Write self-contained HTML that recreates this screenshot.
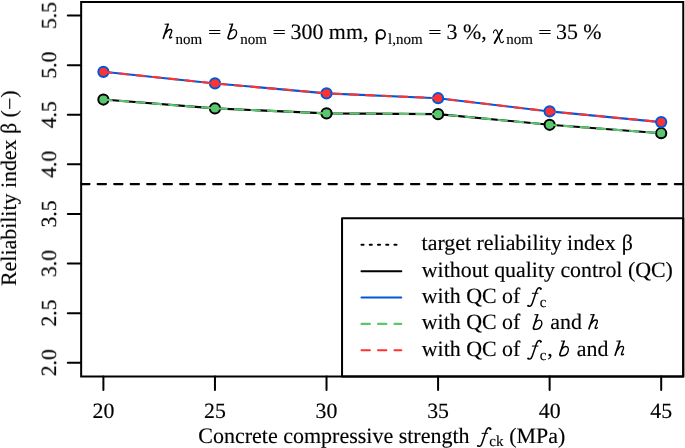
<!DOCTYPE html>
<html><head><meta charset="utf-8"><style>
html,body{margin:0;padding:0;background:#fff;width:685px;height:448px;overflow:hidden}
svg{display:block;font-family:"Liberation Serif",serif;text-rendering:geometricPrecision}
text{stroke:#000;stroke-width:0.15px;will-change:transform}
</style></head><body>
<svg width="685" height="448" viewBox="0 0 685 448">
<rect width="685" height="448" fill="#fff"/>
<line x1="81.15" y1="184.1" x2="683.25" y2="184.1" stroke="#000" stroke-width="2.06" stroke-dasharray="8.4 8.089999999999998" stroke-linecap="round"/>
<polyline points="103.4,99.55 214.96,108.4 326.52,113.4 438.08,114.15 549.64,124.8 661.2,133.2" fill="none" stroke="#000" stroke-width="2.06" stroke-linecap="round" stroke-linejoin="round"/>
<circle cx="103.4" cy="99.55" r="5.1" fill="#5ac76e" stroke="#000" stroke-width="2.0"/>
<circle cx="214.96" cy="108.4" r="5.1" fill="#5ac76e" stroke="#000" stroke-width="2.0"/>
<circle cx="326.52" cy="113.4" r="5.1" fill="#5ac76e" stroke="#000" stroke-width="2.0"/>
<circle cx="438.08" cy="114.15" r="5.1" fill="#5ac76e" stroke="#000" stroke-width="2.0"/>
<circle cx="549.64" cy="124.8" r="5.1" fill="#5ac76e" stroke="#000" stroke-width="2.0"/>
<circle cx="661.2" cy="133.2" r="5.1" fill="#5ac76e" stroke="#000" stroke-width="2.0"/>
<polyline points="103.4,99.55 214.96,108.4 326.52,113.4 438.08,114.15 549.64,124.8 661.2,133.2" fill="none" stroke="#5ac76e" stroke-width="2.06" stroke-dasharray="8.4 8.089999999999998" stroke-linecap="round" stroke-linejoin="round"/>
<polyline points="103.4,71.85 214.96,83.4 326.52,93.4 438.08,98.2 549.64,111.4 661.2,122.1" fill="none" stroke="#0057da" stroke-width="2.06" stroke-linecap="round" stroke-linejoin="round"/>
<circle cx="103.4" cy="71.85" r="5.1" fill="#ff3232" stroke="#0057da" stroke-width="2.0"/>
<circle cx="214.96" cy="83.4" r="5.1" fill="#ff3232" stroke="#0057da" stroke-width="2.0"/>
<circle cx="326.52" cy="93.4" r="5.1" fill="#ff3232" stroke="#0057da" stroke-width="2.0"/>
<circle cx="438.08" cy="98.2" r="5.1" fill="#ff3232" stroke="#0057da" stroke-width="2.0"/>
<circle cx="549.64" cy="111.4" r="5.1" fill="#ff3232" stroke="#0057da" stroke-width="2.0"/>
<circle cx="661.2" cy="122.1" r="5.1" fill="#ff3232" stroke="#0057da" stroke-width="2.0"/>
<polyline points="103.4,71.85 214.96,83.4 326.52,93.4 438.08,98.2 549.64,111.4 661.2,122.1" fill="none" stroke="#ff3232" stroke-width="2.06" stroke-dasharray="8.4 8.089999999999998" stroke-linecap="round" stroke-linejoin="round"/>
<rect x="342.05" y="218.15" width="341.2" height="158.35" fill="#fff" stroke="#000" stroke-width="2.0" stroke-linejoin="round"/>
<rect x="81.15" y="2.0" width="602.1" height="374.5" fill="none" stroke="#000" stroke-width="2.0"/>
<line x1="67.8" y1="362.75" x2="81.15" y2="362.75" stroke="#000" stroke-width="2.0" stroke-linecap="round"/>
<text transform="translate(56.1,362.75) rotate(-90)" text-anchor="middle" font-size="21.8">2.0</text>
<line x1="67.8" y1="313.15" x2="81.15" y2="313.15" stroke="#000" stroke-width="2.0" stroke-linecap="round"/>
<text transform="translate(56.1,313.15) rotate(-90)" text-anchor="middle" font-size="21.8">2.5</text>
<line x1="67.8" y1="263.56" x2="81.15" y2="263.56" stroke="#000" stroke-width="2.0" stroke-linecap="round"/>
<text transform="translate(56.1,263.56) rotate(-90)" text-anchor="middle" font-size="21.8">3.0</text>
<line x1="67.8" y1="213.97" x2="81.15" y2="213.97" stroke="#000" stroke-width="2.0" stroke-linecap="round"/>
<text transform="translate(56.1,213.97) rotate(-90)" text-anchor="middle" font-size="21.8">3.5</text>
<line x1="67.8" y1="164.37" x2="81.15" y2="164.37" stroke="#000" stroke-width="2.0" stroke-linecap="round"/>
<text transform="translate(56.1,164.37) rotate(-90)" text-anchor="middle" font-size="21.8">4.0</text>
<line x1="67.8" y1="114.78" x2="81.15" y2="114.78" stroke="#000" stroke-width="2.0" stroke-linecap="round"/>
<text transform="translate(56.1,114.78) rotate(-90)" text-anchor="middle" font-size="21.8">4.5</text>
<line x1="67.8" y1="65.18" x2="81.15" y2="65.18" stroke="#000" stroke-width="2.0" stroke-linecap="round"/>
<text transform="translate(56.1,65.18) rotate(-90)" text-anchor="middle" font-size="21.8">5.0</text>
<line x1="67.8" y1="15.59" x2="81.15" y2="15.59" stroke="#000" stroke-width="2.0" stroke-linecap="round"/>
<text transform="translate(56.1,15.59) rotate(-90)" text-anchor="middle" font-size="21.8">5.5</text>
<line x1="103.40" y1="376.5" x2="103.40" y2="389.9" stroke="#000" stroke-width="2.0" stroke-linecap="round"/>
<text x="103.40" y="417.8" text-anchor="middle" font-size="21.8">20</text>
<line x1="214.96" y1="376.5" x2="214.96" y2="389.9" stroke="#000" stroke-width="2.0" stroke-linecap="round"/>
<text x="214.96" y="417.8" text-anchor="middle" font-size="21.8">25</text>
<line x1="326.52" y1="376.5" x2="326.52" y2="389.9" stroke="#000" stroke-width="2.0" stroke-linecap="round"/>
<text x="326.52" y="417.8" text-anchor="middle" font-size="21.8">30</text>
<line x1="438.08" y1="376.5" x2="438.08" y2="389.9" stroke="#000" stroke-width="2.0" stroke-linecap="round"/>
<text x="438.08" y="417.8" text-anchor="middle" font-size="21.8">35</text>
<line x1="549.64" y1="376.5" x2="549.64" y2="389.9" stroke="#000" stroke-width="2.0" stroke-linecap="round"/>
<text x="549.64" y="417.8" text-anchor="middle" font-size="21.8">40</text>
<line x1="661.20" y1="376.5" x2="661.20" y2="389.9" stroke="#000" stroke-width="2.0" stroke-linecap="round"/>
<text x="661.20" y="417.8" text-anchor="middle" font-size="21.8">45</text>
<line x1="361.5" y1="244.8" x2="401.3" y2="244.8" stroke="#000" stroke-width="2.06" stroke-dasharray="2.06 6.18" stroke-linecap="round"/>
<line x1="361.5" y1="271.2" x2="401.3" y2="271.2" stroke="#000" stroke-width="2.06" stroke-linecap="round"/>
<line x1="361.5" y1="297.55" x2="401.3" y2="297.55" stroke="#0057da" stroke-width="2.06" stroke-linecap="round"/>
<line x1="361.5" y1="323.9" x2="401.3" y2="323.9" stroke="#5ac76e" stroke-width="2.06" stroke-dasharray="8.4 8.089999999999998" stroke-linecap="round"/>
<line x1="361.5" y1="350.3" x2="401.3" y2="350.3" stroke="#ff3232" stroke-width="2.06" stroke-dasharray="8.4 8.089999999999998" stroke-linecap="round"/>
<text x="421.59" y="250.10" font-size="21.9">target reliability index</text>
<text x="621.69" y="250.10" font-size="21.9">β</text>
<text x="421.78" y="276.50" font-size="21.9">without quality control (QC)</text>
<text x="421.78" y="302.85" font-size="21.9">with QC of</text>
<g transform="translate(527.20,302.85) scale(1.0000)" fill="none" stroke="#000" stroke-linecap="round"><path d="M13.6,-13.9 C13.3,-15.5 11.0,-16.1 9.6,-12.8 C8.2,-9.2 6.2,-2.2 4.7,1.3 C3.9,3.2 2.6,3.9 1.0,3.0" stroke-width="1.45"/><circle cx="13.55" cy="-14.0" r="1.05" fill="#000" stroke="none"/><circle cx="0.95" cy="2.95" r="0.95" fill="#000" stroke="none"/><path d="M5.1,-9.55 L10.8,-9.55" stroke-width="1.0"/></g>
<text x="539.73" y="306.95" font-size="15.0">c</text>
<text x="421.78" y="329.20" font-size="21.9">with QC of</text>
<g transform="translate(532.40,329.20) scale(1.0000)" fill="none" stroke="#000" stroke-linecap="round"><path d="M2.4,-14.5 L5.6,-14.5" stroke-width="1.0"/><path d="M5.15,-14.3 L1.0,-1.6 C0.8,-0.6 1.2,0.2 2.2,0.1" stroke-width="1.65"/><path d="M3.0,-6.6 C4.6,-8.8 6.8,-9.5 8.3,-8.7 C9.8,-7.9 9.8,-5.0 8.5,-2.8 C7.2,-0.5 4.5,0.4 2.2,0.0" stroke-width="1.35"/></g>
<text x="550.33" y="329.20" font-size="21.9">and</text>
<g transform="translate(588.00,329.20) scale(1.0000)" fill="none" stroke="#000" stroke-linecap="round"><path d="M2.6,-14.5 L6.2,-14.5" stroke-width="1.0"/><path d="M5.6,-14.3 L0.95,-0.4" stroke-width="1.65"/><path d="M3.3,-5.6 C4.9,-8.4 6.9,-9.4 8.3,-9.2 C9.6,-9.0 9.5,-7.9 9.1,-6.7 L7.3,-1.9 C6.9,-0.6 7.6,-0.3 9.3,-1.5" stroke-width="1.35"/></g>
<text x="421.78" y="355.60" font-size="21.9">with QC of</text>
<g transform="translate(527.20,355.60) scale(1.0000)" fill="none" stroke="#000" stroke-linecap="round"><path d="M13.6,-13.9 C13.3,-15.5 11.0,-16.1 9.6,-12.8 C8.2,-9.2 6.2,-2.2 4.7,1.3 C3.9,3.2 2.6,3.9 1.0,3.0" stroke-width="1.45"/><circle cx="13.55" cy="-14.0" r="1.05" fill="#000" stroke="none"/><circle cx="0.95" cy="2.95" r="0.95" fill="#000" stroke="none"/><path d="M5.1,-9.55 L10.8,-9.55" stroke-width="1.0"/></g>
<text x="539.73" y="359.70" font-size="15.0">c</text>
<text x="547.37" y="355.60" font-size="21.9">,</text>
<g transform="translate(558.90,355.60) scale(1.0000)" fill="none" stroke="#000" stroke-linecap="round"><path d="M2.4,-14.5 L5.6,-14.5" stroke-width="1.0"/><path d="M5.15,-14.3 L1.0,-1.6 C0.8,-0.6 1.2,0.2 2.2,0.1" stroke-width="1.65"/><path d="M3.0,-6.6 C4.6,-8.8 6.8,-9.5 8.3,-8.7 C9.8,-7.9 9.8,-5.0 8.5,-2.8 C7.2,-0.5 4.5,0.4 2.2,0.0" stroke-width="1.35"/></g>
<text x="576.83" y="355.60" font-size="21.9">and</text>
<g transform="translate(614.20,355.60) scale(1.0000)" fill="none" stroke="#000" stroke-linecap="round"><path d="M2.6,-14.5 L6.2,-14.5" stroke-width="1.0"/><path d="M5.6,-14.3 L0.95,-0.4" stroke-width="1.65"/><path d="M3.3,-5.6 C4.9,-8.4 6.9,-9.4 8.3,-9.2 C9.6,-9.0 9.5,-7.9 9.1,-6.7 L7.3,-1.9 C6.9,-0.6 7.6,-0.3 9.3,-1.5" stroke-width="1.35"/></g>
<g transform="translate(162.40,38.70) scale(1.0000)" fill="none" stroke="#000" stroke-linecap="round"><path d="M2.6,-14.5 L6.2,-14.5" stroke-width="1.0"/><path d="M5.6,-14.3 L0.95,-0.4" stroke-width="1.65"/><path d="M3.3,-5.6 C4.9,-8.4 6.9,-9.4 8.3,-9.2 C9.6,-9.0 9.5,-7.9 9.1,-6.7 L7.3,-1.9 C6.9,-0.6 7.6,-0.3 9.3,-1.5" stroke-width="1.35"/></g>
<text x="175.61" y="43.70" font-size="15.0">nom</text>
<path d="M209.10,30.4 H220.30 M209.10,33.4 H220.30" stroke="#000" stroke-width="1.05" fill="none"/>
<g transform="translate(227.15,38.70) scale(1.0000)" fill="none" stroke="#000" stroke-linecap="round"><path d="M2.4,-14.5 L5.6,-14.5" stroke-width="1.0"/><path d="M5.15,-14.3 L1.0,-1.6 C0.8,-0.6 1.2,0.2 2.2,0.1" stroke-width="1.65"/><path d="M3.0,-6.6 C4.6,-8.8 6.8,-9.5 8.3,-8.7 C9.8,-7.9 9.8,-5.0 8.5,-2.8 C7.2,-0.5 4.5,0.4 2.2,0.0" stroke-width="1.35"/></g>
<text x="240.16" y="43.70" font-size="15.0">nom</text>
<path d="M273.60,30.4 H284.80 M273.60,33.4 H284.80" stroke="#000" stroke-width="1.05" fill="none"/>
<text x="290.55" y="38.70" font-size="21.9">300 mm,</text>
<g fill="none" stroke="#000"><ellipse cx="380.85" cy="34.35" rx="4.3" ry="4.55" stroke-width="1.65"/><path d="M376.75,34.2 V43.4" stroke-width="1.9" stroke-linecap="round"/></g>
<text x="388.10" y="43.70" font-size="15.0">l,nom</text>
<path d="M429.30,30.4 H440.50 M429.30,33.4 H440.50" stroke="#000" stroke-width="1.05" fill="none"/>
<text x="446.55" y="38.70" font-size="21.9">3 %,</text>
<g fill="none" stroke="#000" stroke-linecap="round"><path d="M502.0,29.9 L494.6,43.0" stroke-width="1.9"/><path d="M493.5,32.8 C493.6,30.2 495.6,29.0 496.8,30.6 C498.3,33 499.2,38.5 500.4,41.5 C501.2,43.3 502.8,43.0 503.5,41.3" stroke-width="1.1"/></g>
<text x="506.16" y="43.70" font-size="15.0">nom</text>
<path d="M539.30,30.4 H550.50 M539.30,33.4 H550.50" stroke="#000" stroke-width="1.05" fill="none"/>
<text x="555.95" y="38.70" font-size="21.9">35 %</text>
<text x="198.30" y="442.90" font-size="22.0">Concrete compressive strength</text>
<g transform="translate(476.90,442.90) scale(1.0000)" fill="none" stroke="#000" stroke-linecap="round"><path d="M13.6,-13.9 C13.3,-15.5 11.0,-16.1 9.6,-12.8 C8.2,-9.2 6.2,-2.2 4.7,1.3 C3.9,3.2 2.6,3.9 1.0,3.0" stroke-width="1.45"/><circle cx="13.55" cy="-14.0" r="1.05" fill="#000" stroke="none"/><circle cx="0.95" cy="2.95" r="0.95" fill="#000" stroke="none"/><path d="M5.1,-9.55 L10.8,-9.55" stroke-width="1.0"/></g>
<text x="489.33" y="446.10" font-size="15.0">ck</text>
<text x="509.24" y="442.90" font-size="21.9">(MPa)</text>
<text transform="translate(16.0,285.93) rotate(-90)" font-size="21.9">Reliability index β (<tspan dy="1.2">−</tspan><tspan dy="-1.2">)</tspan></text>
</svg>
</body></html>
